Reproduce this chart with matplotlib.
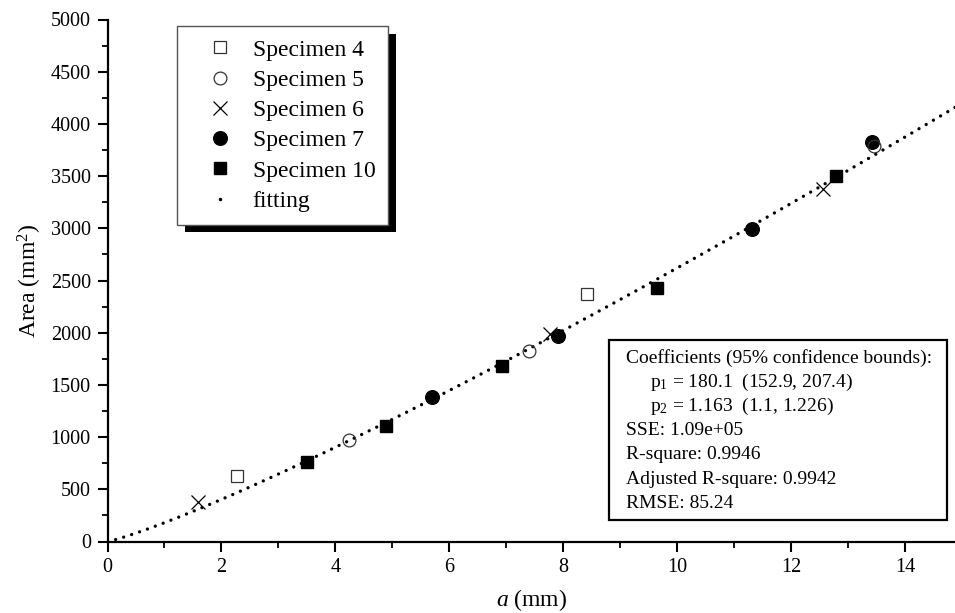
import numpy as np
import matplotlib
matplotlib.use("Agg")
import matplotlib.pyplot as plt
from matplotlib.lines import Line2D
from matplotlib.patches import Rectangle
from matplotlib.transforms import IdentityTransform
from matplotlib.ticker import MultipleLocator

plt.rcParams['font.family'] = ['Liberation Serif', 'DejaVu Serif']
plt.rcParams['mathtext.fontset'] = 'custom'
plt.rcParams['mathtext.rm'] = 'Liberation Serif'
plt.rcParams['mathtext.it'] = 'Liberation Serif:italic'

# ---- data ----
spec4_a = [2.28, 8.42]
spec4_A = [629, 2372]
spec5_a = [4.23, 7.39, 13.45]
spec5_A = [977, 1821, 3789]
spec6_a = [1.59, 7.76, 12.56]
spec6_A = [376, 1991, 3375]
spec7_a = [5.70, 7.90, 11.30, 13.42]
spec7_A = [1384, 1969, 2989, 3831]
spec10_a = [3.50, 4.88, 6.93, 9.64, 12.78]
spec10_A = [766, 1111, 1677, 2426, 3501]

# fitted power model A = p1 * a^p2 (coefficients shown in the box)
p1 = 180.1
p2 = 1.163

stats_lines = [
    "Coefficients (95% confidence bounds):",
    "p$_1$ = 180.1  (152.9, 207.4)",
    "p$_2$ = 1.163  (1.1, 1.226)",
    "SSE: 1.09e+05",
    "R-square: 0.9946",
    "Adjusted R-square: 0.9942",
    "RMSE: 85.24",
]

W, H = 955, 613
fig = plt.figure(figsize=(W / 100, H / 100), dpi=100)
x0p, x1p, ytop, ybot = 107.5, 955.0, 19.5, 541.5
ax = fig.add_axes([x0p / W, 1 - ybot / H, (x1p - x0p) / W, (ybot - ytop) / H])

xmax = 14.87
ax.set_xlim(0, xmax)
ax.set_ylim(0, 5000)

a_fit = np.linspace(0, xmax, 400)
A_fit = p1 * a_fit ** p2
ax.plot(a_fit, A_fit, color='black', lw=2.4, linestyle=(0, (0.01, 2.5)),
        dash_capstyle='round', zorder=2)

ms_kw = dict(linestyle='none', color='black')
ax.plot(spec4_a, spec4_A, marker='s', ms=8.2, mfc='white', mec='#333333', mew=0.9, zorder=3, **ms_kw)
ax.plot(spec6_a, spec6_A, marker='x', ms=10.5, mew=0.9, zorder=3, **ms_kw)
ax.plot(spec7_a, spec7_A, marker='o', ms=9.8, mfc='black', mec='black', zorder=3, **ms_kw)
ax.plot(spec10_a, spec10_A, marker='s', ms=8.7, mfc='black', mec='black', zorder=3, **ms_kw)
ax.plot(spec5_a, spec5_A, marker='o', ms=9.2, mfc='none', mec='#333333', mew=0.9, zorder=4, **ms_kw)

# axes styling
for s in ['top', 'right']:
    ax.spines[s].set_visible(False)
for s in ['left', 'bottom']:
    ax.spines[s].set_linewidth(1.6)
ax.xaxis.set_major_locator(MultipleLocator(2))
ax.xaxis.set_minor_locator(MultipleLocator(1))
ax.yaxis.set_major_locator(MultipleLocator(500))
ax.yaxis.set_minor_locator(MultipleLocator(250))
ax.tick_params(which='major', direction='out', length=7, width=1.5, labelsize=14.5, pad=5)
ax.tick_params(which='minor', direction='out', length=4, width=1.3)

ax.set_xlabel("$a$ (mm)", fontsize=17, labelpad=7)
ax.set_ylabel("Area (mm$^2$)", fontsize=17, labelpad=5)

# legend
handles = [
    Line2D([], [], marker='s', ms=8.2, mfc='white', mec='#333333', mew=0.9, ls='none', color='k'),
    Line2D([], [], marker='o', ms=9.2, mfc='white', mec='#333333', mew=0.9, ls='none', color='k'),
    Line2D([], [], marker='x', ms=10.5, mew=0.9, ls='none', color='k'),
    Line2D([], [], marker='o', ms=9.8, mfc='k', mec='k', ls='none', color='k'),
    Line2D([], [], marker='s', ms=8.7, mfc='k', mec='k', ls='none', color='k'),
    Line2D([], [], marker='.', ms=3, ls='none', color='k'),
]
labels = ["Specimen 4", "Specimen 5", "Specimen 6", "Specimen 7", "Specimen 10", "fitting"]
leg = ax.legend(handles, labels, loc='upper left',
                bbox_to_anchor=((177 - x0p) / (x1p - x0p), (ybot - 26) / (ybot - ytop)),
                borderaxespad=0, fontsize=17, frameon=True, fancybox=False,
                edgecolor='#555555', framealpha=1, handlelength=2.5, handletextpad=0.15,
                labelspacing=0.37, borderpad=0.55, numpoints=1)
leg.get_frame().set_linewidth(1.0)
leg.set_zorder(6)

fig.canvas.draw()
bb = leg.get_window_extent()
shadow = Rectangle((bb.x0 + 7.5, bb.y0 - 7.5), bb.width, bb.height, transform=IdentityTransform(),
                   facecolor='black', edgecolor='none', zorder=5.5, clip_on=False)
ax.add_artist(shadow)

# statistics box
def ax_x(px):
    return (px - x0p) / (x1p - x0p)

def ax_y(py):
    return (ybot - py) / (ybot - ytop)

box = Rectangle((ax_x(609), ax_y(520)), ax_x(947) - ax_x(609), ax_y(340) - ax_y(520),
                transform=ax.transAxes, facecolor='white', edgecolor='black', lw=1.6,
                zorder=7, clip_on=False)
ax.add_patch(box)
for i, line in enumerate(stats_lines):
    xpx = 650 if i in (1, 2) else 626
    ax.text(ax_x(xpx), ax_y(358 + 24.2 * i), line, transform=ax.transAxes,
            fontsize=14, ha='left', va='center', zorder=8)

fig.savefig("out.png", dpi=100)
